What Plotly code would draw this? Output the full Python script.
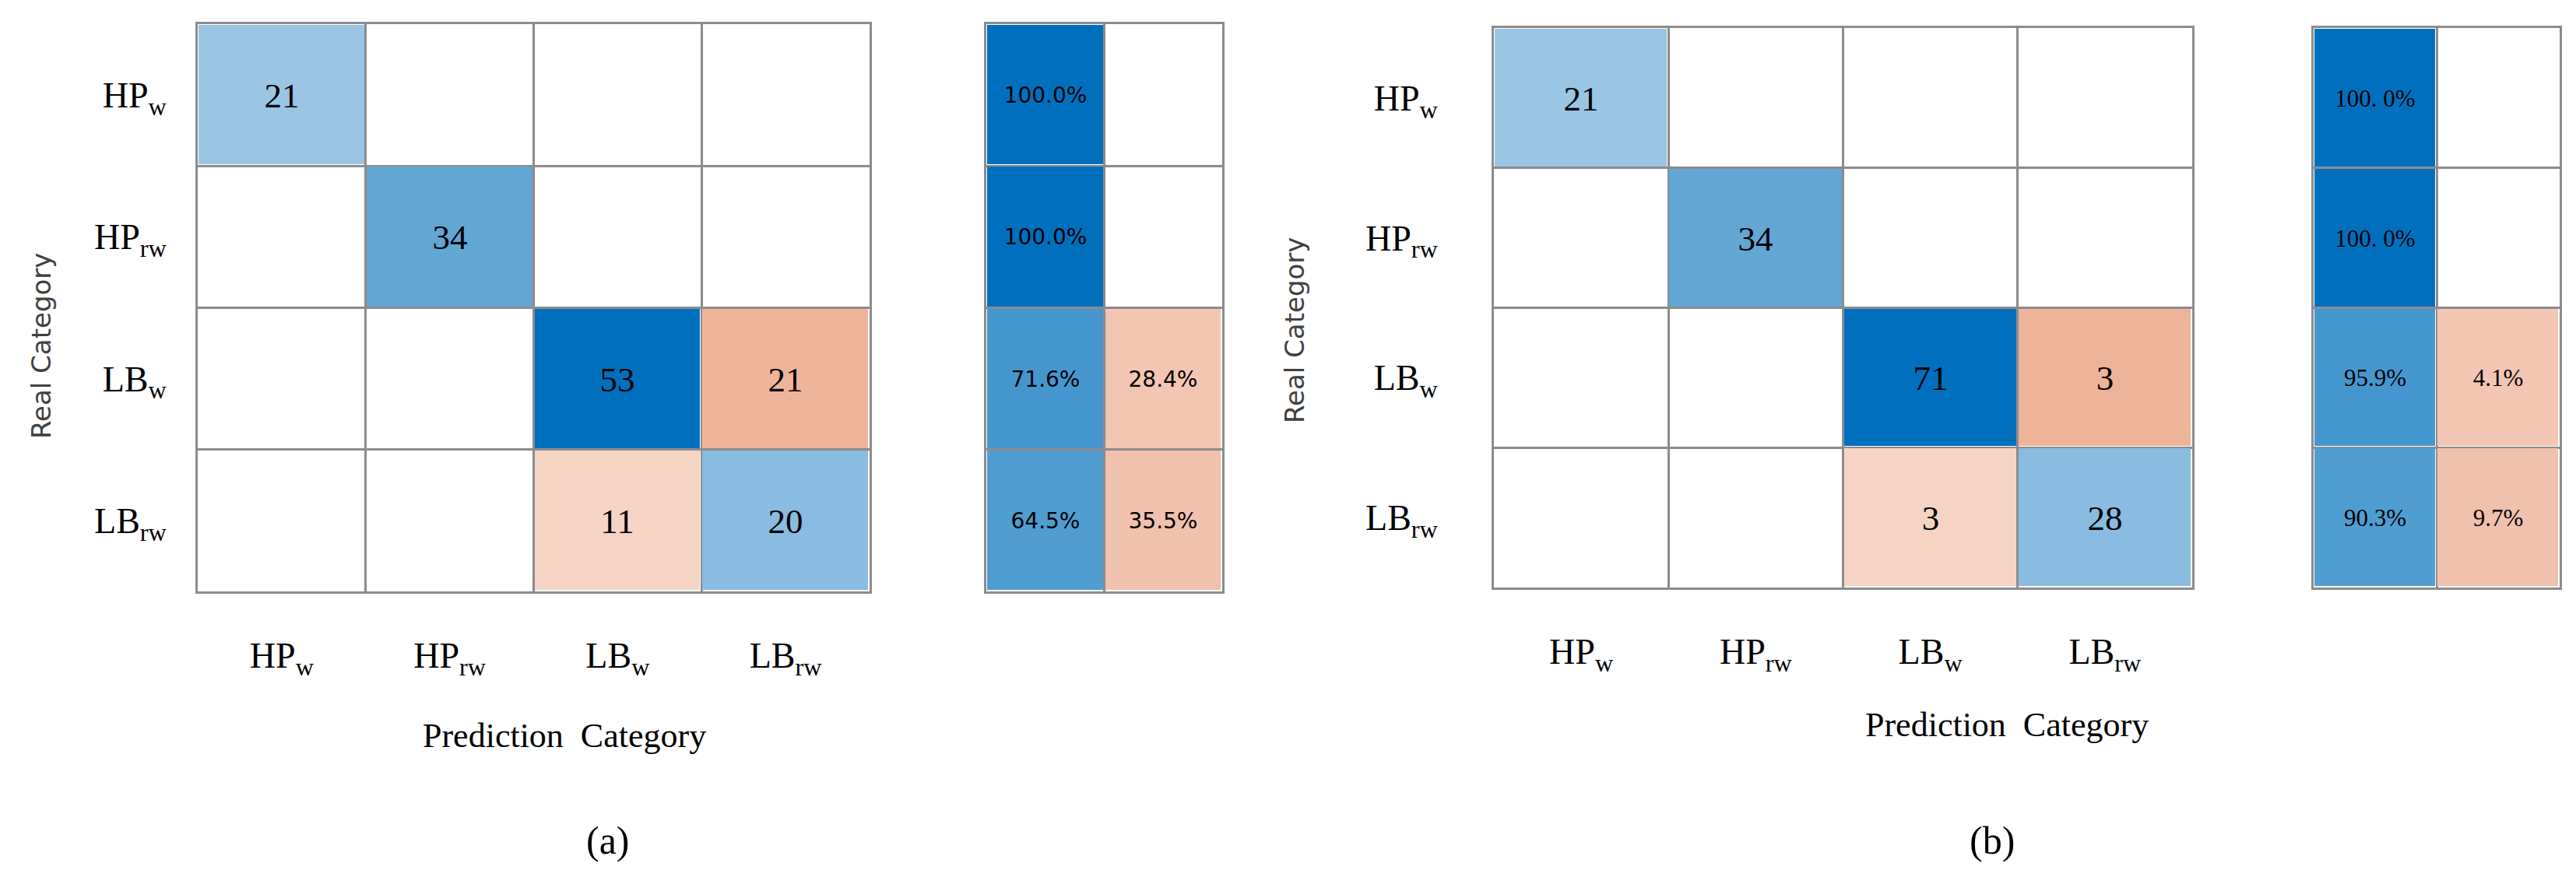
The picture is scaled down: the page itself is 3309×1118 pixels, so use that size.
import plotly.graph_objects as go

# ---------------- data ----------------
CATEGORIES = ["HP<sub>w</sub>", "HP<sub>rw</sub>", "LB<sub>w</sub>", "LB<sub>rw</sub>"]

COUNTS_A = [[21, None, None, None],
            [None, 34, None, None],
            [None, None, 53, 21],
            [None, None, 11, 20]]
COUNTS_B = [[21, None, None, None],
            [None, 34, None, None],
            [None, None, 71, 3],
            [None, None, 3, 28]]

PCT_A = [[100.0, None], [100.0, None], [71.6, 28.4], [64.5, 35.5]]
PCT_B = [[100.0, None], [100.0, None], [95.9, 4.1], [90.3, 9.7]]
PCT_TEXT_A = [["100.0%", ""], ["100.0%", ""], ["71.6%", "28.4%"], ["64.5%", "35.5%"]]
PCT_TEXT_B = [["100. 0%", ""], ["100. 0%", ""], ["95.9%", "4.1%"], ["90.3%", "9.7%"]]

X_TITLE = "Prediction\u00a0 Category"
Y_TITLE = "Real Category"
PANEL_LABELS = ["(a)", "(b)"]

# ---------------- styles ----------------
BLUE_DARK = "#0070BE"
BLUE_MID = "#62A6D4"
BLUE_LIGHT = "#9AC5E3"
BLUE_LIGHT2 = "#8ABBE0"
RED_MID = "#EEB49A"
RED_LIGHT = "#F5D4C4"
PB1 = "#4596CF"
PB2 = "#4F9DD1"
PR1 = "#F2C6B2"
PR2 = "#F0C1AC"

COLORS_A = [[BLUE_LIGHT, None, None, None],
            [None, BLUE_MID, None, None],
            [None, None, BLUE_DARK, RED_MID],
            [None, None, RED_LIGHT, BLUE_LIGHT2]]
COLORS_B = [[BLUE_LIGHT, None, None, None],
            [None, BLUE_MID, None, None],
            [None, None, BLUE_DARK, RED_MID],
            [None, None, RED_LIGHT, BLUE_LIGHT2]]
PCOLORS = [[BLUE_DARK, None], [BLUE_DARK, None], [PB1, PR1], [PB2, PR2]]

GRID = "#8C8C8C"
W, H = 3309, 1118


def color_index(values, colors):
    uniq = []
    for row in colors:
        for c in row:
            if c is not None and c not in uniq:
                uniq.append(c)
    z = []
    for vr, cr in zip(values, colors):
        z.append([uniq.index(c) if (v is not None and c is not None) else None
                  for v, c in zip(vr, cr)])
    n = len(uniq)
    if n == 1:
        scale = [[0, uniq[0]], [1, uniq[0]]]
    else:
        scale = [[i / (n - 1), c] for i, c in enumerate(uniq)]
    return z, scale, n


def heat(values, colors, text, xa, ya, font):
    z, scale, n = color_index(values, colors)
    ncol = len(values[0])
    nrow = len(values)
    return go.Heatmap(
        z=z, x=[i + 0.5 for i in range(ncol)], y=[j + 0.5 for j in range(nrow)],
        colorscale=scale, zmin=0, zmax=max(n - 1, 1), showscale=False,
        text=text, texttemplate="%{text}", textfont=font,
        xgap=3, ygap=3, hoverinfo="skip", xaxis=xa, yaxis=ya,
    )


def count_text(values):
    return [["" if v is None else str(v) for v in row] for row in values]


fig = go.Figure()
num_font = dict(family="Liberation Serif", size=45, color="black")
fig.add_trace(heat(COUNTS_A, COLORS_A, count_text(COUNTS_A), "x", "y", num_font))
fig.add_trace(heat(PCT_A, PCOLORS, PCT_TEXT_A, "x2", "y2",
                   dict(family="DejaVu Sans", size=28, color="black")))
fig.add_trace(heat(COUNTS_B, COLORS_B, count_text(COUNTS_B), "x3", "y3", num_font))
fig.add_trace(heat(PCT_B, PCOLORS, PCT_TEXT_B, "x4", "y4",
                   dict(family="Liberation Serif", size=31, color="black")))

tick_font = dict(family="Liberation Serif", size=46, color="black")


def xaxis(domain, anchor, n, labels, standoff):
    d = dict(domain=domain, anchor=anchor, range=[0, n], showgrid=False, zeroline=False,
             showline=True, mirror=True, linecolor=GRID, linewidth=3,
             minor=dict(tickvals=list(range(1, n)), showgrid=True, gridcolor=GRID, gridwidth=3),
             fixedrange=True, ticks="")
    if labels:
        d.update(tickvals=[i + 0.5 for i in range(n)], ticktext=labels, tickfont=tick_font,
                 ticklabelstandoff=standoff)
    else:
        d.update(showticklabels=False)
    return d


def yaxis(domain, anchor, n, labels, standoff):
    d = dict(domain=domain, anchor=anchor, range=[n, 0], showgrid=False, zeroline=False,
             showline=True, mirror=True, linecolor=GRID, linewidth=3,
             minor=dict(tickvals=list(range(1, n)), showgrid=True, gridcolor=GRID, gridwidth=3),
             fixedrange=True, ticks="")
    if labels:
        d.update(tickvals=[i + 0.5 for i in range(n)], ticktext=labels, tickfont=tick_font,
                 ticklabelstandoff=standoff)
    else:
        d.update(showticklabels=False)
    return d


ya_dom = [1 - 752 / H, 1 - 23 / H]
yb_dom = [1 - 747 / H, 1 - 28 / H]

fig.update_layout(
    width=W, height=H, margin=dict(l=0, r=0, t=0, b=0),
    paper_bgcolor="white", plot_bgcolor="white", showlegend=False,
    xaxis=xaxis([246 / W, 1109 / W], "y", 4, CATEGORIES, 40),
    yaxis=yaxis(ya_dom, "x", 4, CATEGORIES, 28),
    xaxis2=xaxis([1259 / W, 1562 / W], "y2", 2, None, 0),
    yaxis2=yaxis(ya_dom, "x2", 4, None, 0),
    xaxis3=xaxis([1911 / W, 2808 / W], "y3", 4, CATEGORIES, 40),
    yaxis3=yaxis(yb_dom, "x3", 4, CATEGORIES, 60),
    xaxis4=xaxis([2964 / W, 3280 / W], "y4", 2, None, 0),
    yaxis4=yaxis(yb_dom, "x4", 4, None, 0),
)

ann_common = dict(xref="paper", yref="paper", showarrow=False,
                  xanchor="center", yanchor="middle")
ytitle_font = dict(family="DejaVu Sans", size=34, color="#404040")
xtitle_font = dict(family="Liberation Serif", size=44, color="black")
panel_font = dict(family="Liberation Serif", size=50, color="black")

fig.add_annotation(text=Y_TITLE, x=45 / W, y=1 - 437 / H, textangle=-90,
                   font=ytitle_font, **ann_common)
fig.add_annotation(text=Y_TITLE, x=1655 / W, y=1 - 416 / H, textangle=-90,
                   font=ytitle_font, **ann_common)
fig.add_annotation(text=X_TITLE, x=717 / W, y=1 - 937 / H, font=xtitle_font, **ann_common)
fig.add_annotation(text=X_TITLE, x=2570 / W, y=1 - 923 / H, font=xtitle_font, **ann_common)
fig.add_annotation(text=PANEL_LABELS[0], x=773 / W, y=1 - 1072 / H, font=panel_font, **ann_common)
fig.add_annotation(text=PANEL_LABELS[1], x=2551 / W, y=1 - 1072 / H, font=panel_font, **ann_common)

fig.write_html("out.html")
